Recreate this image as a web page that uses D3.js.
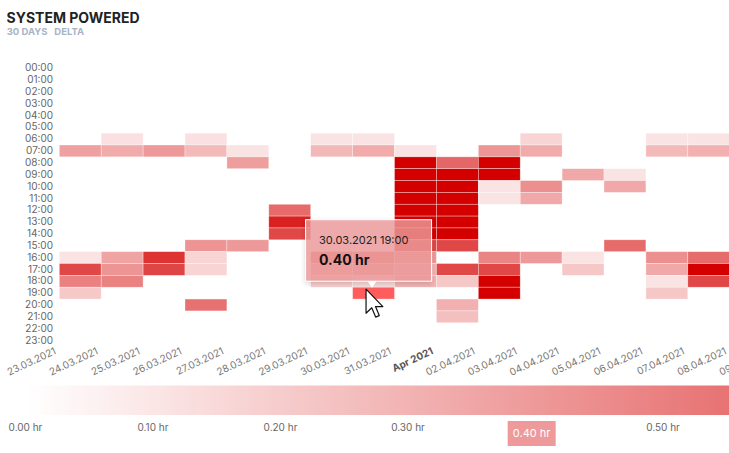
<!DOCTYPE html>
<html>
<head>
<meta charset="utf-8">
<script src="https://cdn.jsdelivr.net/npm/d3@7"></script>
<style>
  html, body { margin: 0; padding: 0; background: #fff; overflow: hidden; }
  svg { display: block; font-family: Inter, "Noto Sans", sans-serif; }
</style>
</head>
<body>
<svg id="chart" width="729" height="453"></svg>
<script>
// ---- data ----
const title = "SYSTEM POWERED";
const subtitleA = "30 DAYS";
const subtitleB = "DELTA";

const days = ["23.03.2021","24.03.2021","25.03.2021","26.03.2021","27.03.2021","28.03.2021",
  "29.03.2021","30.03.2021","31.03.2021","01.04.2021","02.04.2021","03.04.2021","04.04.2021",
  "05.04.2021","06.04.2021","07.04.2021","08.04.2021","09.04.2021"];
const dayTickLabels = ["23.03.2021","24.03.2021","25.03.2021","26.03.2021","27.03.2021","28.03.2021",
  "29.03.2021","30.03.2021","31.03.2021","Apr 2021","02.04.2021","03.04.2021","04.04.2021",
  "05.04.2021","06.04.2021","07.04.2021","08.04.2021","09.04.2021"];
const hourLabels = ["00:00","01:00","02:00","03:00","04:00","05:00","06:00","07:00","08:00",
  "09:00","10:00","11:00","12:00","13:00","14:00","15:00","16:00","17:00","18:00","19:00",
  "20:00","21:00","22:00","23:00"];

// [day, hour, hours powered]
const cells = [
  ["23.03.2021",7,0.37],["23.03.2021",16,0.11],["23.03.2021",17,0.72],["23.03.2021",18,0.5],["23.03.2021",19,0.21],
  ["24.03.2021",6,0.12],["24.03.2021",7,0.33],["24.03.2021",16,0.36],["24.03.2021",17,0.42],["24.03.2021",18,0.49],
  ["25.03.2021",7,0.4],["25.03.2021",16,0.8],["25.03.2021",17,0.73],
  ["26.03.2021",6,0.12],["26.03.2021",7,0.27],["26.03.2021",15,0.42],["26.03.2021",16,0.17],["26.03.2021",17,0.17],["26.03.2021",20,0.56],
  ["27.03.2021",7,0.11],["27.03.2021",8,0.38],["27.03.2021",15,0.4],
  ["28.03.2021",12,0.58],["28.03.2021",13,0.87],["28.03.2021",14,0.72],
  ["29.03.2021",6,0.11],["29.03.2021",7,0.28],["29.03.2021",16,0.5],["29.03.2021",17,0.3],["29.03.2021",18,0.2],
  ["30.03.2021",6,0.11],["30.03.2021",7,0.33],["30.03.2021",16,0.5],["30.03.2021",17,0.35],["30.03.2021",18,0.15],["30.03.2021",19,0.397],
  ["31.03.2021",7,0.11],["31.03.2021",8,1],["31.03.2021",9,1],["31.03.2021",10,1],["31.03.2021",11,1],["31.03.2021",12,1],
  ["31.03.2021",13,1],["31.03.2021",14,1],["31.03.2021",15,0.72],["31.03.2021",16,0.4],["31.03.2021",17,0.3],["31.03.2021",18,0.3],
  ["01.04.2021",8,0.6],["01.04.2021",9,1],["01.04.2021",10,1],["01.04.2021",11,1],["01.04.2021",12,1],["01.04.2021",13,1],
  ["01.04.2021",14,1],["01.04.2021",15,0.72],["01.04.2021",17,0.72],["01.04.2021",18,0.22],["01.04.2021",20,0.31],["01.04.2021",21,0.25],
  ["02.04.2021",7,0.41],["02.04.2021",8,1],["02.04.2021",9,1],["02.04.2021",10,0.11],["02.04.2021",11,0.11],
  ["02.04.2021",16,0.48],["02.04.2021",17,0.72],["02.04.2021",18,1],["02.04.2021",19,1],
  ["03.04.2021",6,0.17],["03.04.2021",7,0.33],["03.04.2021",10,0.44],["03.04.2021",11,0.34],["03.04.2021",16,0.4],
  ["04.04.2021",9,0.34],["04.04.2021",16,0.11],["04.04.2021",17,0.22],
  ["05.04.2021",9,0.11],["05.04.2021",10,0.34],["05.04.2021",15,0.58],
  ["06.04.2021",6,0.11],["06.04.2021",7,0.27],["06.04.2021",16,0.44],["06.04.2021",17,0.34],["06.04.2021",18,0.11],["06.04.2021",19,0.22],
  ["07.04.2021",6,0.11],["07.04.2021",7,0.31],["07.04.2021",16,0.58],["07.04.2021",17,1],["07.04.2021",18,0.72]
];

const legendTicks = [0, 0.1, 0.2, 0.3, 0.5];
const hovered = { day: "30.03.2021", hour: 19 };

// ---- layout ----
const svg = d3.select("#chart");
const parse = d3.utcParse("%d.%m.%Y");
const fmtVal = d3.format(".2f");

const x0 = 59.3, dayW = 41.9;
const dayDates = days.map(parse);
const x = d3.scaleUtc()
  .domain([dayDates[0], d3.utcDay.offset(dayDates[dayDates.length - 1], 1)])
  .range([x0, x0 + dayW * days.length]);
const y = d3.scaleBand().domain(d3.range(24)).range([62.05, 62.05 + 11.85 * 24]).paddingInner(0);
const color = d3.scaleLinear().domain([0, 1]).range(["#ffffff", "#d40000"]).clamp(true);

// defs
const defs = svg.append("defs");
const grad = defs.append("linearGradient").attr("id", "lg").attr("x1", "0%").attr("x2", "100%");
d3.range(0, 1.0001, 0.1).forEach(t => grad.append("stop").attr("offset", (t * 100) + "%").attr("stop-color", color(t)));
const filt = defs.append("filter").attr("id", "shadow").attr("x", "-20%").attr("y", "-20%").attr("width", "140%").attr("height", "150%");
filt.append("feDropShadow").attr("dx", 0).attr("dy", 2).attr("stdDeviation", 2.5).attr("flood-color", "#000").attr("flood-opacity", 0.18);

// title
svg.append("text").attr("x", 6.5).attr("y", 23.3).attr("font-size", 14).attr("font-weight", 700)
  .attr("fill", "#222").text(title);
svg.append("text").attr("x", 6.7).attr("y", 35).attr("font-size", 9.5).attr("font-weight", 700)
  .attr("fill", "#a9b3c5").text(subtitleA);
svg.append("text").attr("x", 54.3).attr("y", 35).attr("font-size", 9.5).attr("font-weight", 700)
  .attr("fill", "#a9b3c5").text(subtitleB);

// cells
svg.append("g").selectAll("rect").data(cells).join("rect")
  .attr("x", d => x(parse(d[0])))
  .attr("y", d => y(d[1]))
  .attr("width", d => x(d3.utcDay.offset(parse(d[0]), 1)) - x(parse(d[0])))
  .attr("height", y.bandwidth())
  .attr("fill", d => (d[0] === hovered.day && d[1] === hovered.hour) ? "#ff5d5d" : color(d[2]))
  .attr("stroke", "#fff").attr("stroke-opacity", 0.55).attr("stroke-width", 0.6);

// y axis
const yAxis = svg.append("g").attr("transform", "translate(56,0)")
  .call(d3.axisLeft(y).tickSize(0).tickPadding(3).tickFormat(i => hourLabels[i]));
yAxis.select(".domain").remove();
yAxis.selectAll("text").attr("font-family", "Inter, sans-serif").attr("font-size", 10).attr("fill", "#666");

// x axis (time ticks at day starts, labels rotated)
const xAxis = svg.append("g").attr("transform", "translate(0,346.5)")
  .call(d3.axisBottom(x).tickValues(dayDates).tickSize(0).tickFormat((d, i) => dayTickLabels[i]));
xAxis.select(".domain").remove();
xAxis.selectAll("text")
  .attr("font-family", "Inter, sans-serif").attr("font-size", 10)
  .attr("text-anchor", "end")
  .attr("y", 0).attr("dy", 0)
  .attr("transform", "translate(-3,7) rotate(-25)")
  .attr("fill", (d, i) => dayTickLabels[i].startsWith("Apr") ? "#555" : "#777")
  .attr("font-weight", (d, i) => dayTickLabels[i].startsWith("Apr") ? 700 : 400);

// legend
const lx = d3.scaleLinear().domain([0, 1]).range([25.5, 25.5 + 1275]);
svg.append("rect").attr("x", lx(0)).attr("y", 385.5).attr("width", lx(1) - lx(0)).attr("height", 29.5)
  .attr("fill", "url(#lg)");
svg.append("g").selectAll("text").data(legendTicks).join("text")
  .attr("x", d => lx(d)).attr("y", 431).attr("text-anchor", "middle")
  .attr("font-size", 10).attr("fill", "#666").text(d => fmtVal(d) + " hr");

const hv = cells.find(d => d[0] === hovered.day && d[1] === hovered.hour);
svg.append("rect").attr("x", lx(hv[2]) - 24).attr("y", 421).attr("width", 48).attr("height", 25)
  .attr("fill", color(hv[2]));
svg.append("text").attr("x", lx(hv[2])).attr("y", 436.5).attr("text-anchor", "middle")
  .attr("font-size", 11).attr("fill", "#fff").text(fmtVal(hv[2]) + " hr");

// tooltip
const hx = x(parse(hv[0])) + dayW / 2;
const hy = y(hv[1]);
const tip = svg.append("g");
tip.append("rect").attr("x", hx - 68).attr("y", hy - 67.5).attr("width", 126).attr("height", 61.5)
  .attr("fill", color(hv[2])).attr("fill-opacity", 0.8)
  .attr("stroke", "#fff").attr("stroke-width", 1).attr("filter", "url(#shadow)");
tip.append("path")
  .attr("d", `M${hx - 6},${hy - 6}L${hx + 3},${hy - 6}L${hx - 1.5},${hy + 0.5}Z`)
  .attr("fill", "#fff");
tip.append("text").attr("x", hx - 54.5).attr("y", hy - 42.8).attr("font-size", 11).attr("fill", "#222")
  .text(hv[0] + " " + hourLabels[hv[1]]);
tip.append("text").attr("x", hx - 54.5).attr("y", hy - 22).attr("font-size", 14).attr("font-weight", 700)
  .attr("fill", "#111").text(fmtVal(hv[2]) + " hr");

// mouse pointer
svg.append("path")
  .attr("d", "M0,0L0,16L3.8,12.4L6.4,18.6L8.8,17.6L6.3,11.6L11.2,11.6Z")
  .attr("transform", `translate(${hx - 7.5},${hy + 2}) scale(1.5)`)
  .attr("fill", "#fff").attr("stroke", "#111").attr("stroke-width", 0.8).attr("stroke-linejoin", "round");
</script>
</body>
</html>
